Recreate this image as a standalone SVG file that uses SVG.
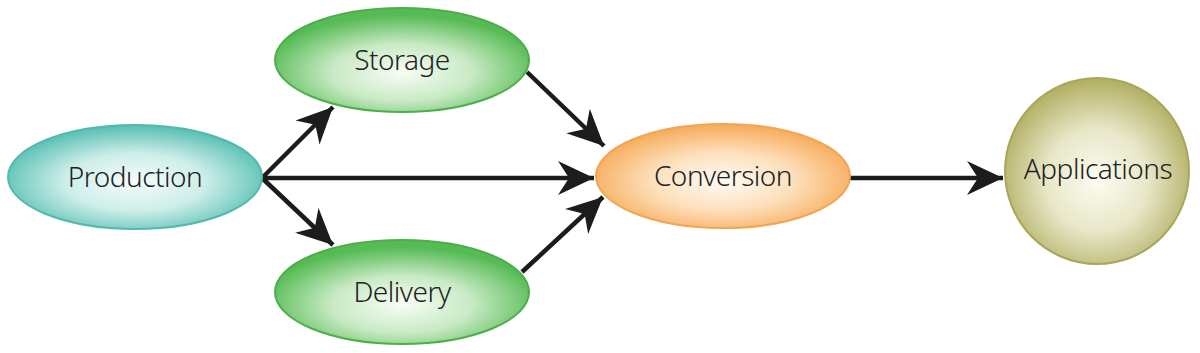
<svg xmlns="http://www.w3.org/2000/svg" width="1200" height="353" viewBox="0 0 1200 353">
<defs>
<radialGradient id="gTeal" cx="50%" cy="55%" r="55%">
<stop offset="0" stop-color="#f6fcfb"/>
<stop offset="0.5" stop-color="#cdeee9"/>
<stop offset="1" stop-color="#55bfb2"/>
</radialGradient>
<radialGradient id="gGreen" cx="50%" cy="62%" r="55%">
<stop offset="0" stop-color="#f8fdf6"/>
<stop offset="0.5" stop-color="#c8eac4"/>
<stop offset="1" stop-color="#56bb54"/>
</radialGradient>
<radialGradient id="gOrange" cx="50%" cy="55%" r="55%">
<stop offset="0" stop-color="#fffbf5"/>
<stop offset="0.5" stop-color="#fde0bc"/>
<stop offset="1" stop-color="#f7aa58"/>
</radialGradient>
<radialGradient id="gOlive" cx="50%" cy="55%" r="55%">
<stop offset="0" stop-color="#fcfcf3"/>
<stop offset="0.5" stop-color="#e8e7c8"/>
<stop offset="1" stop-color="#b1ae60"/>
</radialGradient>
<marker id="arr" markerUnits="userSpaceOnUse" viewBox="-36 -18 37 36" refX="0" refY="0" markerWidth="37" markerHeight="36" orient="auto">
<path d="M0,0 L-36,-17 L-25,0 L-36,17 Z" fill="#1c1c1c"/>
</marker>
<style>
.lbl{font-family:"Noto Sans","Open Sans","Liberation Sans",sans-serif;font-size:28px;font-weight:300;letter-spacing:-0.5px;fill:#222222;text-anchor:middle}
.edge{stroke:#1c1c1c;stroke-width:4.5;fill:none;marker-end:url(#arr)}
</style>
</defs>
<rect width="1200" height="353" fill="#ffffff"/>
<g id="connectors">
<line class="edge" x1="262" y1="178" x2="594" y2="178"/>
<line class="edge" x1="262" y1="178" x2="333" y2="107"/>
<line class="edge" x1="262" y1="178" x2="333" y2="245"/>
<line class="edge" x1="527" y1="72" x2="604" y2="146"/>
<line class="edge" x1="522" y1="272" x2="603" y2="197"/>
<line class="edge" x1="850" y1="178" x2="1003" y2="178"/>
</g>
<g id="production">
<ellipse cx="135" cy="177" rx="127" ry="52" fill="url(#gTeal)" stroke="#52b9ac" stroke-width="2"/>
<text class="lbl" x="135" y="187">Production</text>
</g>
<g id="storage">
<ellipse cx="402" cy="60" rx="127" ry="52" fill="url(#gGreen)" stroke="#4caf4a" stroke-width="2"/>
<text class="lbl" x="402" y="70">Storage</text>
</g>
<g id="delivery">
<ellipse cx="402" cy="292" rx="127" ry="52" fill="url(#gGreen)" stroke="#4caf4a" stroke-width="2"/>
<text class="lbl" x="402" y="302">Delivery</text>
</g>
<g id="conversion">
<ellipse cx="723" cy="176" rx="127" ry="52" fill="url(#gOrange)" stroke="#f2a552" stroke-width="2"/>
<text class="lbl" x="723" y="186">Conversion</text>
</g>
<g id="applications">
<ellipse cx="1097" cy="171" rx="92" ry="93" fill="url(#gOlive)" stroke="#a9a65c" stroke-width="2"/>
<text class="lbl" x="1098" y="179">Applications</text>
</g>
</svg>
